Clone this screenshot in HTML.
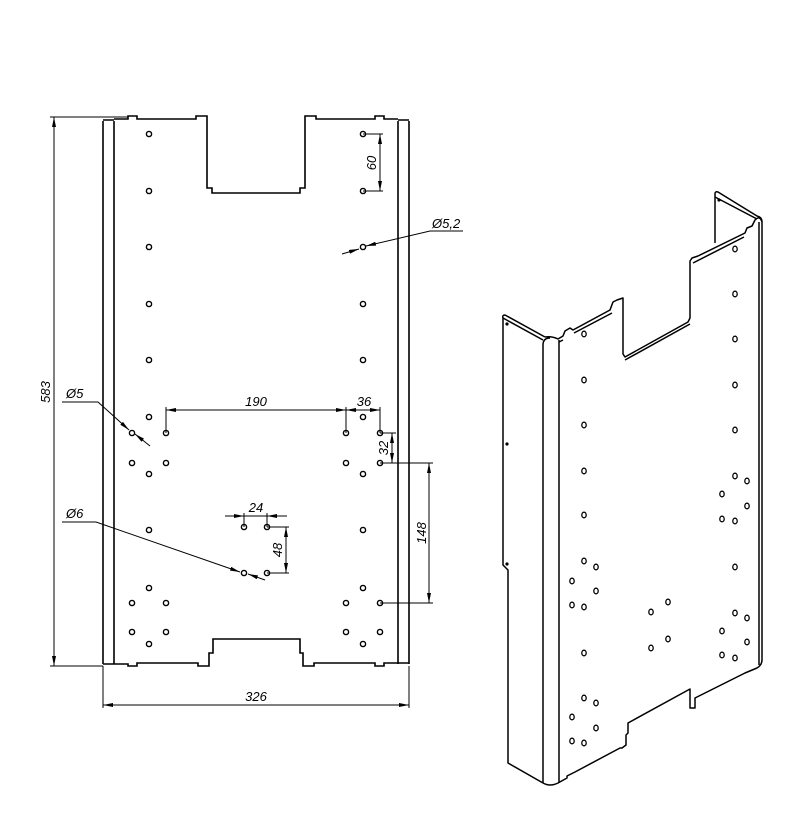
<!DOCTYPE html>
<html><head><meta charset="utf-8"><style>html,body{margin:0;padding:0;background:#fff}svg{display:block}text{font-family:"Liberation Sans",sans-serif;font-style:italic;font-size:13px;fill:#000}</style></head><body>
<svg width="800" height="840" viewBox="0 0 800 840" xmlns="http://www.w3.org/2000/svg">
<defs>
<marker id="a" viewBox="0 0 10 4" refX="10" refY="2" markerWidth="10" markerHeight="4" orient="auto-start-reverse" markerUnits="userSpaceOnUse"><path d="M0,0L10,2L0,4z" fill="#000"/></marker>
</defs>
<g fill="none" stroke="#000" stroke-width="1.6">
<path d="M103,121 L103,664 M114,121 L114,664 M398,121 L398,664 M409,121 L409,664"/>
<path d="M103,120 L114,120 M398,120 L409,120"/>
<path d="M114,119 L128,119 L128,116 L137,116 L137,119 L196,119 L196,116 L207,116 L207,188 L212,188 L212,193 L300,193 L300,188 L305,188 L305,116 L316,116 L316,119 L375,119 L375,116 L384,116 L384,119 L398,119"/>
<path d="M103,664 L128,664 L128,666 L137,666 L137,663 L198,663 L198,666 L209,666 L209,653 L213,653 L213,639 L300,639 L300,653 L303,653 L303,666 L314,666 L314,663 L375,663 L375,666 L384,666 L384,663 L409,663"/>
</g>
<g fill="none" stroke="#000" stroke-width="1.4">
<circle cx="149" cy="134" r="2.6"/><circle cx="363" cy="134" r="2.6"/>
<circle cx="149" cy="191" r="2.6"/><circle cx="363" cy="191" r="2.6"/>
<circle cx="149" cy="247" r="2.6"/><circle cx="363" cy="247" r="2.6"/>
<circle cx="149" cy="304" r="2.6"/><circle cx="363" cy="304" r="2.6"/>
<circle cx="149" cy="360" r="2.6"/><circle cx="363" cy="360" r="2.6"/>
<circle cx="149" cy="417" r="2.6"/><circle cx="363" cy="417" r="2.6"/>
<circle cx="132" cy="433" r="2.6"/><circle cx="166" cy="433" r="2.6"/><circle cx="346" cy="433" r="2.6"/><circle cx="380" cy="433" r="2.6"/>
<circle cx="132" cy="463" r="2.6"/><circle cx="166" cy="463" r="2.6"/><circle cx="346" cy="463" r="2.6"/><circle cx="380" cy="463" r="2.6"/>
<circle cx="149" cy="474" r="2.6"/><circle cx="363" cy="474" r="2.6"/>
<circle cx="149" cy="530" r="2.6"/><circle cx="363" cy="530" r="2.6"/>
<circle cx="149" cy="588" r="2.6"/><circle cx="363" cy="588" r="2.6"/>
<circle cx="132" cy="603" r="2.6"/><circle cx="166" cy="603" r="2.6"/><circle cx="346" cy="603" r="2.6"/><circle cx="380" cy="603" r="2.6"/>
<circle cx="132" cy="632" r="2.6"/><circle cx="166" cy="632" r="2.6"/><circle cx="346" cy="632" r="2.6"/><circle cx="380" cy="632" r="2.6"/>
<circle cx="149" cy="644" r="2.6"/><circle cx="363" cy="644" r="2.6"/>
<circle cx="244" cy="527" r="2.6"/><circle cx="267" cy="527" r="2.6"/><circle cx="244" cy="573" r="2.6"/><circle cx="267" cy="573" r="2.6"/>
</g>
<g fill="none" stroke="#000" stroke-width="1">
<path d="M50,117 L128,117 M50,666 L103,666"/>
<path d="M54,117 L54,666" marker-start="url(#a)" marker-end="url(#a)"/>
<path d="M103,666 L103,708 M409,666 L409,708"/>
<path d="M103,705 L409,705" marker-start="url(#a)" marker-end="url(#a)"/>
<path d="M166,433 L166,407 M346,433 L346,407 M380,433 L380,407"/>
<path d="M166,410 L346,410" marker-start="url(#a)" marker-end="url(#a)"/>
<path d="M346,410 L380,410" marker-start="url(#a)" marker-end="url(#a)"/>
<path d="M363,134 L383,134 M363,191 L383,191"/>
<path d="M380,134 L380,191" marker-start="url(#a)" marker-end="url(#a)"/>
<path d="M380,433 L396,433 M380,463 L433,463 M380,603 L433,603"/>
<path d="M392,433 L392,463" marker-start="url(#a)" marker-end="url(#a)"/>
<path d="M429,463 L429,603" marker-start="url(#a)" marker-end="url(#a)"/>
<path d="M244,527 L244,513 M267,527 L267,513 M225,516 L287,516"/>
<path d="M228,516 L244,516" marker-end="url(#a)"/>
<path d="M283,516 L267,516" marker-end="url(#a)"/>
<path d="M267,527 L289,527 M267,573 L289,573"/>
<path d="M286,527 L286,573" marker-start="url(#a)" marker-end="url(#a)"/>
<path d="M463,231 L430,231 L366,246" marker-end="url(#a)"/>
<path d="M342,254 L359,249" marker-end="url(#a)"/>
<path d="M62,402 L98,402 L129,430" marker-end="url(#a)"/>
<path d="M150,446 L135,434" marker-end="url(#a)"/>
<path d="M62,522 L96,522 L240,572" marker-end="url(#a)"/>
<path d="M265,580 L248,574" marker-end="url(#a)"/>
</g>
<text x="50" y="392" transform="rotate(-90 50 392)" text-anchor="middle">583</text>
<text x="256" y="701" text-anchor="middle">326</text>
<text x="256" y="406" text-anchor="middle">190</text>
<text x="364" y="406" text-anchor="middle">36</text>
<text x="376" y="163" transform="rotate(-90 376 163)" text-anchor="middle">60</text>
<text x="388" y="448" transform="rotate(-90 388 448)" text-anchor="middle">32</text>
<text x="426" y="533" transform="rotate(-90 426 533)" text-anchor="middle">148</text>
<text x="256" y="512" text-anchor="middle">24</text>
<text x="282" y="550" transform="rotate(-90 282 550)" text-anchor="middle">48</text>
<text x="432" y="228">Ø5,2</text>
<text x="66" y="398">Ø5</text>
<text x="66" y="518">Ø6</text>
<g fill="none" stroke="#000" stroke-width="1.5" stroke-linejoin="round">
<path d="M543,340 L503,318 Q502,315 505,315 L545,337"/>
<path d="M503,318 L503,565 L508,570 L508,763 L543,783"/>
<path d="M543,345 L543,783 M559,340 L559,783"/>
<path d="M543,345 Q543,338 550,338"/>
<path d="M543,783 Q550,787 558,783 L567,778 L567,776 L573,773 L575,772 L620,748 L622,748 L626,745 L626,735 L628,733 L628,723 L690,689 L690,708 L695,708 L695,698 L697,697 L743,674 L745,673 L757,668 Q762,665 762,660 L762,222 Q762,217 757,216 L718,192 Q715,191 715,194 L715,243"/>
<path d="M759,222 L759,665"/>
<path d="M545,337 Q552,336 558,339 L563,336 L565,331 L570,328 L573,330 L610,310 L613,302 L617,300 L623,298 L623,354 L625,357 L688,322 L690,318 L690,261 L692,258 L698,256 L745,233 L747,228 L752,226 L755,220 Q760,215 762,222"/>
<path d="M559,342 L563,340 M625,360 L690,324 M574,333 L612,313 M693,263 L744,237 M715,197 L757,219"/>
</g>
<g fill="none" stroke="#000" stroke-width="1.3">
<ellipse cx="584" cy="334" rx="2.2" ry="2.8"/><ellipse cx="584" cy="380" rx="2.2" ry="2.8"/><ellipse cx="584" cy="425" rx="2.2" ry="2.8"/><ellipse cx="584" cy="471" rx="2.2" ry="2.8"/><ellipse cx="584" cy="515" rx="2.2" ry="2.8"/><ellipse cx="584" cy="561" rx="2.2" ry="2.8"/><ellipse cx="584" cy="607" rx="2.2" ry="2.8"/><ellipse cx="584" cy="653" rx="2.2" ry="2.8"/><ellipse cx="584" cy="698" rx="2.2" ry="2.8"/><ellipse cx="584" cy="743" rx="2.2" ry="2.8"/>
<ellipse cx="596" cy="567" rx="2.2" ry="2.8"/><ellipse cx="572" cy="581" rx="2.2" ry="2.8"/><ellipse cx="596" cy="591" rx="2.2" ry="2.8"/><ellipse cx="572" cy="605" rx="2.2" ry="2.8"/>
<ellipse cx="596" cy="703" rx="2.2" ry="2.8"/><ellipse cx="572" cy="717" rx="2.2" ry="2.8"/><ellipse cx="596" cy="728" rx="2.2" ry="2.8"/><ellipse cx="572" cy="741" rx="2.2" ry="2.8"/>
<ellipse cx="651" cy="612" rx="2.2" ry="2.8"/><ellipse cx="668" cy="602" rx="2.2" ry="2.8"/><ellipse cx="651" cy="648" rx="2.2" ry="2.8"/><ellipse cx="668" cy="639" rx="2.2" ry="2.8"/>
<ellipse cx="735" cy="249" rx="2.2" ry="2.8"/><ellipse cx="735" cy="294" rx="2.2" ry="2.8"/><ellipse cx="735" cy="339" rx="2.2" ry="2.8"/><ellipse cx="735" cy="385" rx="2.2" ry="2.8"/><ellipse cx="735" cy="430" rx="2.2" ry="2.8"/><ellipse cx="735" cy="476" rx="2.2" ry="2.8"/><ellipse cx="735" cy="521" rx="2.2" ry="2.8"/><ellipse cx="735" cy="567" rx="2.2" ry="2.8"/><ellipse cx="735" cy="613" rx="2.2" ry="2.8"/><ellipse cx="735" cy="658" rx="2.2" ry="2.8"/>
<ellipse cx="747" cy="481" rx="2.2" ry="2.8"/><ellipse cx="722" cy="494" rx="2.2" ry="2.8"/><ellipse cx="747" cy="506" rx="2.2" ry="2.8"/><ellipse cx="722" cy="519" rx="2.2" ry="2.8"/>
<ellipse cx="747" cy="618" rx="2.2" ry="2.8"/><ellipse cx="722" cy="631" rx="2.2" ry="2.8"/><ellipse cx="747" cy="642" rx="2.2" ry="2.8"/><ellipse cx="722" cy="655" rx="2.2" ry="2.8"/>
</g>
<g fill="#000"><circle cx="507" cy="324" r="1.6"/><circle cx="507" cy="444" r="1.6"/><circle cx="507" cy="564" r="1.6"/><circle cx="719" cy="200" r="1.6"/></g>
</svg>
</body></html>
